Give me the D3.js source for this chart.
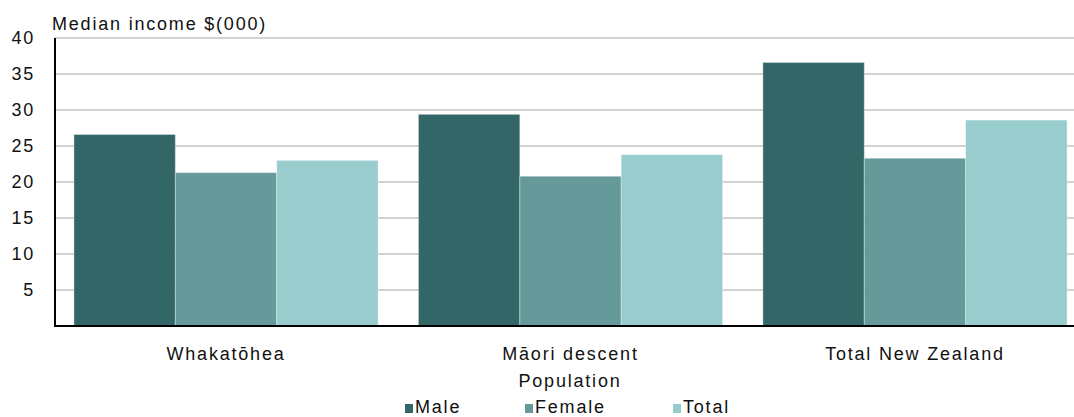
<!DOCTYPE html>
<html>
<head>
<meta charset="utf-8">
<script src="https://cdn.jsdelivr.net/npm/d3@7"></script>
<style>
  html, body { margin: 0; padding: 0; background: #fff; }
  svg { display: block; }
  text { font-family: "Liberation Sans", Arial, sans-serif; font-size: 18px; fill: #111; letter-spacing: 1.8px; }
</style>
</head>
<body>
<svg id="chart" width="1074" height="417"></svg>
<script>
// ---- data ----
const categories = ['Whakatōhea', 'Māori descent', 'Total New Zealand'];
const seriesNames = ['Male', 'Female', 'Total'];
const male   = [26.6, 29.4, 36.6];
const female = [21.3, 20.8, 23.3];
const total  = [23.0, 23.8, 28.6];
const yTicks = [5, 10, 15, 20, 25, 30, 35, 40];

const colors = ['#336666', '#669999', '#99cccc'];
const values = [male, female, total];

const W = 1074, H = 417;
const plotLeft = 55, plotTop = 38, plotBottom = 326;

const svg = d3.select('#chart');

const y = d3.scaleLinear().domain([0, 40]).range([plotBottom, plotTop]);

const x0 = d3.scaleBand()
    .domain(categories)
    .range([55, 1086])
    .paddingInner(0.117)
    .paddingOuter(0.055);

const x1 = d3.scaleBand()
    .domain(seriesNames)
    .range([0, x0.bandwidth()]);

// gridlines
svg.append('g')
  .selectAll('line')
  .data(yTicks)
  .join('line')
    .attr('x1', plotLeft).attr('x2', W)
    .attr('y1', d => y(d)).attr('y2', d => y(d))
    .attr('stroke', '#d2d2d2')
    .attr('stroke-width', 2);

// y tick labels
svg.append('g')
  .selectAll('text')
  .data(yTicks)
  .join('text')
    .attr('x', 35)
    .attr('y', d => y(d))
    .attr('dy', '0.35em')
    .attr('text-anchor', 'end')
    .text(d => d);

// bars
const groups = svg.append('g')
  .selectAll('g')
  .data(categories)
  .join('g')
    .attr('transform', d => `translate(${x0(d)},0)`);

groups.selectAll('rect')
  .data((d, i) => seriesNames.map((s, j) => ({ s, v: values[j][i], c: colors[j] })))
  .join('rect')
    .attr('x', d => x1(d.s))
    .attr('y', d => y(d.v))
    .attr('width', x1.bandwidth())
    .attr('height', d => y(0) - y(d.v))
    .attr('fill', d => d.c)
    .attr('stroke', 'rgba(255,255,255,0.35)')
    .attr('stroke-width', 1);

// axes lines
svg.append('line')
  .attr('x1', plotLeft).attr('x2', plotLeft)
  .attr('y1', plotTop).attr('y2', plotBottom + 1)
  .attr('stroke', '#000').attr('stroke-width', 2);
svg.append('line')
  .attr('x1', plotLeft - 1).attr('x2', W)
  .attr('y1', plotBottom).attr('y2', plotBottom)
  .attr('stroke', '#000').attr('stroke-width', 2);

// title
svg.append('text')
  .attr('x', 52).attr('y', 30)
  .text('Median income $(000)');

// category labels
svg.append('g')
  .selectAll('text')
  .data(categories)
  .join('text')
    .attr('x', d => x0(d) + x0.bandwidth() / 2)
    .attr('y', 360)
    .attr('text-anchor', 'middle')
    .text(d => d);

// x axis title
svg.append('text')
  .attr('x', 570).attr('y', 387)
  .attr('text-anchor', 'middle')
  .text('Population');

// legend
const legendX = [405, 525, 673];
const lg = svg.append('g')
  .selectAll('g')
  .data(seriesNames)
  .join('g')
    .attr('transform', (d, i) => `translate(${legendX[i]},0)`);
lg.append('rect')
  .attr('x', 0).attr('y', 404)
  .attr('width', 8).attr('height', 9)
  .attr('fill', (d, i) => colors[i]);
lg.append('text')
  .attr('x', 10).attr('y', 413)
  .text(d => d);
</script>
</body>
</html>
